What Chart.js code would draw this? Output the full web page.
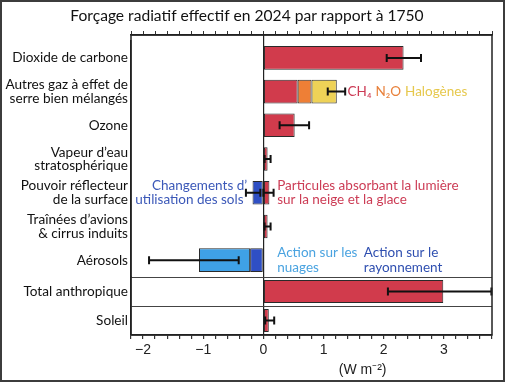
<!DOCTYPE html>
<html lang="fr">
<head>
<meta charset="UTF-8">
<title>Forçage radiatif effectif</title>
<script src="https://cdn.jsdelivr.net/npm/chart.js"></script>
<style>
  body { margin: 0; background: #fff; }
  #wrap { width: 501px; height: 378px; border: 2px solid #3c3c3c; position: relative; }
</style>
</head>
<body>
<div id="wrap"><canvas id="forcingChart"></canvas></div>
<script>
const categories = [
  'Dioxide de carbone',
  ['Autres gaz à effet de', 'serre bien mélangés'],
  'Ozone',
  ['Vapeur d’eau', 'stratosphérique'],
  ['Pouvoir réflecteur', 'de la surface'],
  ['Traînées d’avions', '& cirrus induits'],
  'Aérosols',
  'Total anthropique',
  'Soleil'
];
const splitAt = 7; // the last two rows sit in their own boxed band

// W m-2, one value per category, null = no segment
const redValues       = [2.33, 0.57, 0.52, 0.07, 0.10, 0.07, null, 2.99, 0.09];
const n2oValues       = [null, 0.23, null, null, null, null, null, null, null];
const halogenValues   = [null, 0.42, null, null, null, null, null, null, null];
const darkBlueValues  = [null, null, null, null, -0.18, null, -0.22, null, null];
const lightBlueValues = [null, null, null, null, null, null, -0.85, null, null];

// error bars (category index, low, high)
const errorIndex = [0, 1, 2, 3, 4, 4, 5, 6, 7, 8];
const errorLow   = [2.05, 1.07, 0.27, 0.02, -0.29, 0.00, 0.02, -1.90, 2.07, 0.03];
const errorHigh  = [2.62, 1.36, 0.76, 0.12, -0.05, 0.17, 0.12, -0.41, 3.79, 0.18];

const xTickLabels = [-2, -1, 0, 1, 2, 3];
const xMin = -2.2, xMax = 3.8;

const RED = '#d13b4c', ORANGE = '#ee7f36', YELLOW = '#eed257';
const LIGHTBLUE = '#3fa1e6', DARKBLUE = '#2f4fc4';
const LABEL_FONT = 'Lato, "Open Sans", sans-serif';

function minorTicks(scale) {
  const ticks = [];
  for (let i = 0; i <= 30; i++) {
    ticks.push({ value: Math.round((xMin + i * 0.2) * 10) / 10 });
  }
  scale.ticks = ticks;
}

function rowPixel(chart, idx) {
  return idx < splitAt
    ? chart.scales.y.getPixelForValue(idx)
    : chart.scales.yb.getPixelForValue(idx - splitAt);
}

const errorBars = {
  id: 'errorBars',
  afterDatasetsDraw(chart) {
    const { ctx, scales: { x } } = chart;
    ctx.save();
    ctx.strokeStyle = '#111';
    ctx.lineWidth = 2;
    errorIndex.forEach((idx, i) => {
      const yc = rowPixel(chart, idx);
      const x1 = x.getPixelForValue(errorLow[i]);
      const x2 = x.getPixelForValue(errorHigh[i]);
      ctx.beginPath();
      ctx.moveTo(x1, yc); ctx.lineTo(x2, yc);
      ctx.moveTo(x1, yc - 4); ctx.lineTo(x1, yc + 4);
      ctx.moveTo(x2, yc - 4); ctx.lineTo(x2, yc + 4);
      ctx.stroke();
    });
    ctx.restore();
  }
};

const annotations = {
  id: 'annotations',
  afterDraw(chart) {
    const { ctx, chartArea, scales: { x } } = chart;
    ctx.save();
    // frame
    ctx.strokeStyle = '#222';
    ctx.lineWidth = 1.5;
    ctx.strokeRect(chartArea.left, chartArea.top, chartArea.right - chartArea.left, chartArea.bottom - chartArea.top);

    ctx.font = '13.5px ' + LABEL_FONT;
    ctx.textBaseline = 'middle';
    ctx.textAlign = 'left';

    // gas names after the second bar
    let gx = x.getPixelForValue(1.4);
    const gy = rowPixel(chart, 1);
    [['CH₄', '#cc3a55'], ['N₂O', '#e8803a'], ['Halogènes', '#e6c84c']].forEach(([t, c]) => {
      ctx.fillStyle = c;
      ctx.fillText(t, gx, gy);
      gx += ctx.measureText(t).width + 4;
    });

    const py = rowPixel(chart, 4);
    ctx.fillStyle = '#cc3c55';
    ctx.fillText('Particules absorbant la lumière', x.getPixelForValue(0.23), py - 7);
    ctx.fillText('sur la neige et la glace', x.getPixelForValue(0.23), py + 7);

    ctx.fillStyle = '#3b58b8';
    ctx.textAlign = 'right';
    ctx.fillText('Changements d’', x.getPixelForValue(-0.27), py - 7);
    ctx.fillText('utilisation des sols', x.getPixelForValue(-0.33), py + 7);

    const ay = rowPixel(chart, 6);
    ctx.textAlign = 'left';
    ctx.fillStyle = '#4aa3e0';
    ctx.fillText('Action sur les', x.getPixelForValue(0.23), ay - 8);
    ctx.fillText('nuages', x.getPixelForValue(0.23), ay + 7);
    ctx.fillStyle = '#2f4fb0';
    ctx.fillText('Action sur le', x.getPixelForValue(1.67), ay - 8);
    ctx.fillText('rayonnement', x.getPixelForValue(1.67), ay + 7);

    // unit
    ctx.fillStyle = '#222';
    ctx.textAlign = 'center';
    ctx.font = '14px "Liberation Sans", Arial, sans-serif';
    ctx.fillText('(W m⁻²)', x.getPixelForValue(1.65), chartArea.bottom + 35);
    ctx.restore();
  }
};

function segments(label, values, color) {
  const base = {
    label,
    backgroundColor: color,
    borderColor: '#2a2a2a',
    borderWidth: 1,
    borderSkipped: false,
    grouped: false,
    categoryPercentage: 1
  };
  return [
    Object.assign({}, base, { data: values.slice(0, splitAt), yAxisID: 'y', barPercentage: 0.7 }),
    Object.assign({}, base, { data: values.slice(splitAt), yAxisID: 'yb', barPercentage: 0.8 })
  ];
}

const yLabelOptions = {
  padding: 3,
  autoSkip: false,
  color: '#111',
  font: { family: LABEL_FONT, size: 13.6, lineHeight: 1.0 }
};

new Chart(document.getElementById('forcingChart'), {
  type: 'bar',
  data: {
    datasets: [
      ...segments('Principal', redValues, RED),
      ...segments('N2O', n2oValues, ORANGE),
      ...segments('Halogènes', halogenValues, YELLOW),
      ...segments('Action sur le rayonnement', darkBlueValues, DARKBLUE),
      ...segments('Action sur les nuages', lightBlueValues, LIGHTBLUE)
    ]
  },
  options: {
    indexAxis: 'y',
    responsive: true,
    maintainAspectRatio: false,
    animation: false,
    layout: { padding: { left: 0, right: 11, top: 0, bottom: 0 } },
    plugins: {
      legend: { display: false },
      tooltip: { enabled: false },
      title: {
        display: true,
        text: 'Forçage radiatif effectif en 2024 par rapport à 1750',
        color: '#111',
        font: { family: LABEL_FONT, size: 15.6, weight: 'normal' },
        padding: { top: 5, bottom: 4.3 }
      }
    },
    scales: {
      x: {
        type: 'linear',
        stacked: true,
        min: xMin, max: xMax,
        afterBuildTicks: minorTicks,
        afterFit: s => { s.height = 45; },
        border: { color: '#222', width: 1.5 },
        grid: {
          color: c => (c.tick && c.tick.value === 0 ? '#222' : 'rgba(0,0,0,0)'),
          tickColor: '#333',
          tickLength: 4,
          lineWidth: 1.2
        },
        ticks: {
          autoSkip: false,
          maxRotation: 0,
          padding: 3,
          color: '#222',
          font: { family: '"Liberation Sans", Arial, sans-serif', size: 14 },
          callback: v => {
            const r = Math.round(v);
            return Math.abs(v - r) < 1e-6 && xTickLabels.includes(r) ? String(r).replace('-', '\u2212') : '';
          }
        }
      },
      x2: {
        type: 'linear',
        position: 'top',
        min: xMin, max: xMax,
        afterBuildTicks: minorTicks,
        afterFit: s => { s.height = 5; },
        border: { color: '#222', width: 1.5 },
        grid: { drawOnChartArea: false, tickColor: '#333', tickLength: 4 },
        ticks: { display: false, autoSkip: false }
      },
      // empty strip above the first row
      ySpacer: {
        type: 'category',
        labels: [''],
        position: 'left',
        weight: 2,
        stack: 'rows',
        stackWeight: 6,
        afterFit: s => { s.width = 129; },
        border: { display: false },
        grid: { display: false },
        ticks: { display: false }
      },
      y: {
        type: 'category',
        labels: categories.slice(0, splitAt),
        position: 'left',
        weight: 1,
        stacked: true,
        stack: 'rows',
        stackWeight: 236,
        afterFit: s => { s.width = 129; },
        border: { color: '#222', width: 1.5 },
        grid: { drawTicks: false, display: false },
        ticks: yLabelOptions
      },
      yb: {
        type: 'category',
        labels: categories.slice(splitAt),
        position: 'left',
        weight: 0,
        stacked: true,
        stack: 'rows',
        stackWeight: 58,
        afterFit: s => { s.width = 129; },
        border: { color: '#222', width: 1.5 },
        grid: {
          drawTicks: false,
          color: c => (c.index <= 1 ? '#444' : 'rgba(0,0,0,0)'),
          lineWidth: 1
        },
        ticks: yLabelOptions
      }
    }
  },
  plugins: [errorBars, annotations]
});
</script>
</body>
</html>
